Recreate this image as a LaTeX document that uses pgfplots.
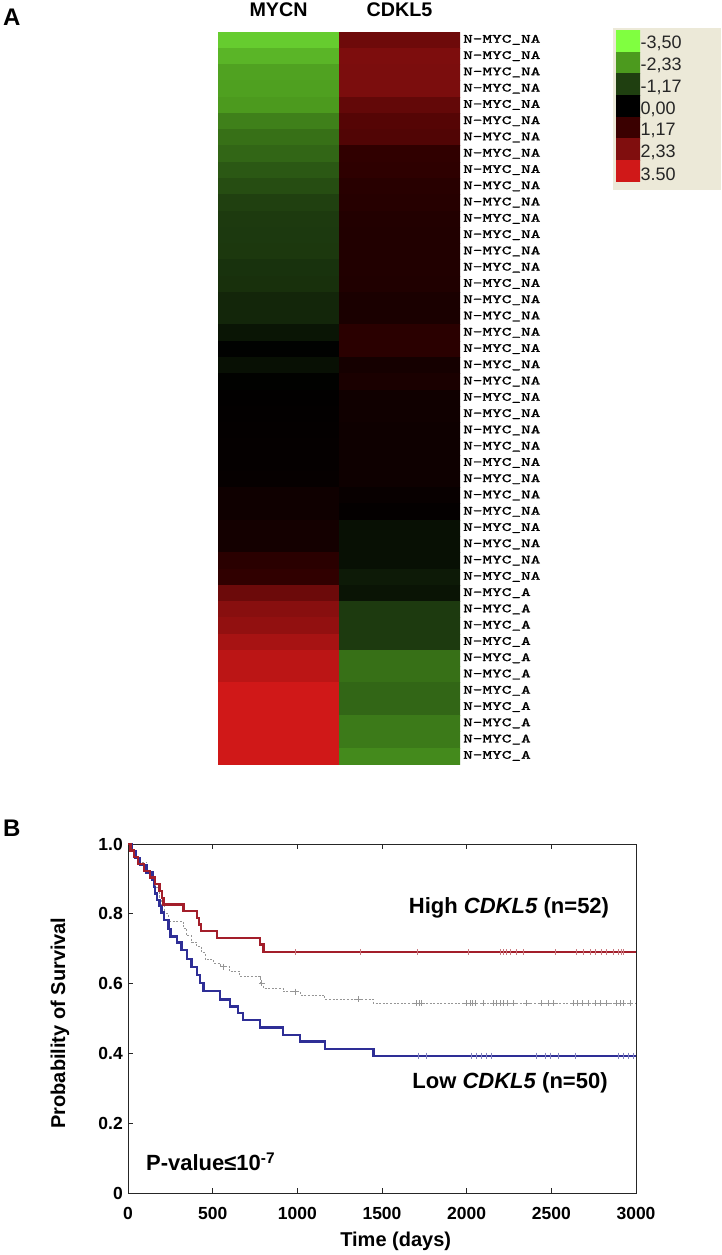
\documentclass[border=0pt]{standalone}
\usepackage{fontspec}
\setmainfont{Liberation Sans}
\newfontfamily\labmono{lmmono10-regular.otf}[FakeBold=1.2]
\usepackage{graphicx}
\usepackage{pgfplots}
\pgfplotsset{compat=1.18}
\usepackage{pgfplotstable}

\definecolor{kmred}{RGB}{163,30,42}
\definecolor{kmblue}{RGB}{46,46,150}
\definecolor{legbg}{RGB}{236,233,216}
\definecolor{kmgray}{RGB}{150,150,150}

\pgfplotsset{colormap={gkr}{rgb255=(128,255,64) rgb255=(76,154,30) rgb255=(31,63,16) rgb255=(0,0,0) rgb255=(58,0,0) rgb255=(128,14,14) rgb255=(208,24,24)}}

% heatmap: x=0 MYCN, x=1 CDKL5, y = row
\pgfplotstableread{
x y v
0 0 -2.91
1 0 2.03
0 1 -2.64
1 1 2.28
0 2 -2.42
1 2 2.25
0 3 -2.40
1 3 2.25
0 4 -2.33
1 4 1.85
0 5 -2.00
1 5 1.62
0 6 -1.79
1 6 1.55
0 7 -1.67
1 7 0.97
0 8 -1.48
1 8 0.93
0 9 -1.34
1 9 0.81
0 10 -1.18
1 10 0.76
0 11 -1.08
1 11 0.68
0 12 -1.06
1 12 0.66
0 13 -1.04
1 13 0.66
0 14 -0.92
1 14 0.66
0 15 -0.89
1 15 0.64
0 16 -0.70
1 16 0.52
0 17 -0.70
1 17 0.52
0 18 -0.39
1 18 0.85
0 19 -0.04
1 19 0.85
0 20 -0.30
1 20 0.42
0 21 -0.03
1 21 0.52
0 22 0.05
1 22 0.32
0 23 0.07
1 23 0.32
0 24 0.08
1 24 0.28
0 25 0.10
1 25 0.28
0 26 0.10
1 26 0.28
0 27 0.12
1 27 0.28
0 28 0.30
1 28 0.16
0 29 0.30
1 29 0.08
0 30 0.40
1 30 -0.30
0 31 0.40
1 31 -0.30
0 32 0.85
1 32 -0.30
0 33 0.97
1 33 -0.48
0 34 2.00
1 34 -0.37
0 35 2.45
1 35 -1.08
0 36 2.60
1 36 -1.08
0 37 2.90
1 37 -1.08
0 38 3.20
1 38 -1.79
0 39 3.20
1 39 -1.79
0 40 3.50
1 40 -1.67
0 41 3.50
1 41 -1.67
0 42 3.50
1 42 -1.92
0 43 3.50
1 43 -1.92
0 44 3.50
1 44 -2.13
}\heat

\pgfplotstableread{
x y v
0 0 -3.50
1 0 -3.50
0 1 -2.33
1 1 -2.33
0 2 -1.17
1 2 -1.17
0 3 0
1 3 0
0 4 1.17
1 4 1.17
0 5 2.33
1 5 2.33
0 6 3.50
1 6 3.50
}\legtab

\pgfplotstableread{
t s
0 1.0
15 0.981
35 0.962
60 0.942
95 0.923
130 0.904
160 0.885
185 0.865
200 0.846
209 0.827
327 0.808
406 0.788
420 0.769
430 0.750
524 0.731
780 0.712
800 0.690
3000 0.690
}\highc

\pgfplotstableread{
t s
0 1.0
20 0.98
45 0.96
70 0.94
110 0.918
145 0.897
152 0.877
159 0.858
172 0.840
185 0.822
199 0.804
213 0.782
238 0.756
252 0.735
288 0.718
317 0.697
347 0.670
376 0.648
406 0.625
425 0.601
445 0.578
543 0.555
602 0.534
650 0.515
680 0.496
780 0.474
917 0.453
1016 0.434
1163 0.412
1449 0.393
3000 0.393
}\lowc

\pgfplotstableread{
t s
0 1.0
20 0.98
45 0.965
70 0.948
110 0.92
150 0.895
160 0.875
185 0.848
200 0.825
213 0.80
238 0.777
327 0.758
347 0.737
376 0.718
406 0.706
435 0.688
455 0.669
504 0.659
543 0.649
602 0.634
661 0.620
780 0.601
800 0.587
917 0.577
1016 0.567
1163 0.555
1449 0.544
3000 0.544
}\allc

\pgfplotstableread{
t s
986 0.690
1370 0.690
1709 0.690
2010 0.690
2197 0.690
2217 0.690
2237 0.690
2256 0.690
2296 0.690
2335 0.690
2522 0.690
2650 0.690
2689 0.690
2729 0.690
2758 0.690
2798 0.690
2827 0.690
2866 0.690
2896 0.690
2915 0.690
2925 0.690
}\highcens

\pgfplotstableread{
t s
1715 0.393
1764 0.393
2030 0.393
2059 0.393
2089 0.393
2118 0.393
2148 0.393
2414 0.393
2463 0.393
2492 0.393
2541 0.393
2640 0.393
2896 0.393
2925 0.393
2955 0.393
2984 0.393
}\lowcens

\pgfplotstableread{
t s
563 0.649
790 0.601
986 0.577
1360 0.555
1705 0.544
1720 0.544
1734 0.544
2000 0.544
2020 0.544
2036 0.544
2049 0.544
2099 0.544
2158 0.544
2177 0.544
2197 0.544
2217 0.544
2237 0.544
2276 0.544
2355 0.544
2443 0.544
2483 0.544
2512 0.544
2630 0.544
2654 0.544
2680 0.544
2719 0.544
2758 0.544
2788 0.544
2827 0.544
2886 0.544
2906 0.544
2925 0.544
2965 0.544
}\allcens

\begin{document}
\begin{tikzpicture}
\fill[white] (0,0) rectangle (721pt,-1255pt);

% Panel labels
\node[anchor=base west, inner sep=0pt, font=\bfseries\fontsize{24}{24}\selectfont] at (3pt,-26pt) {A};
\node[anchor=base west, inner sep=0pt, font=\bfseries\fontsize{24}{24}\selectfont] at (3pt,-836pt) {B};

% Heatmap
\begin{axis}[
  at={(218pt,-31.7pt)}, anchor=north west,
  scale only axis, width=242pt, height=732.3pt,
  xmin=-0.5, xmax=1.5, ymin=-0.5, ymax=44.5, y dir=reverse,
  point meta min=-3.5, point meta max=3.5,
  axis line style={draw=none},
  major tick length=0pt,
  xtick={0,1}, xticklabels={MYCN,CDKL5}, xticklabel pos=upper,
  xticklabel style={anchor=south, inner sep=0pt, yshift=15pt, font=\bfseries\fontsize{19.7}{19.7}\selectfont},
  ytick={0,...,44}, yticklabel pos=right,
  yticklabel={\scalebox{1.47}[1]{\ifnum\ticknum<34 N-MYC\_NA\else N-MYC\_A\fi}},
  yticklabel style={anchor=west, inner sep=0pt, xshift=3pt, font=\labmono\fontsize{12.5}{12.5}\selectfont},
]
\addplot[matrix plot*, mesh/cols=2, point meta=explicit] table[x=x, y=y, meta=v] {\heat};
\end{axis}

% Colour key
\fill[legbg] (613pt,-28pt) rectangle (721pt,-190pt);
\begin{axis}[
  at={(616pt,-30pt)}, anchor=north west,
  scale only axis, width=24pt, height=152pt,
  xmin=-0.5, xmax=1.5, ymin=-0.5, ymax=6.5, y dir=reverse,
  point meta min=-3.5, point meta max=3.5,
  axis line style={draw=none},
  major tick length=0pt,
  xtick=\empty,
  ytick={0,...,6}, yticklabels={{-3,50},{-2,33},{-1,17},{0,00},{1,17},{2,33},{3.50}},
  yticklabel pos=right,
  yticklabel style={anchor=west, inner sep=0pt, xshift=0.5pt, yshift=-3pt, text=black!85, font=\fontsize{18}{18}\selectfont},
]
\addplot[matrix plot*, mesh/cols=2, point meta=explicit] table[x=x, y=y, meta=v] {\legtab};
\end{axis}

% Kaplan-Meier
\begin{axis}[
  at={(128pt,-1193pt)}, anchor=south west,
  scale only axis, width=508pt, height=349pt,
  xmin=0, xmax=3000, ymin=0, ymax=1,
  xtick={0,500,...,3000}, xticklabels={0,500,1000,1500,2000,2500,3000},
  ytick={0,0.2,0.4,0.6,0.8,1}, yticklabels={0,0.2,0.4,0.6,0.8,1.0},
  xtick pos=both, ytick pos=left, tick align=inside,
  major tick length=5pt,
  tick style={black!85, line width=0.8pt},
  axis line style={black!85, line width=1pt},
  ticklabel style={font=\bfseries\fontsize{17.5}{17.5}\selectfont},
  xticklabel style={inner sep=0pt, yshift=-14pt},
  yticklabel style={inner sep=0pt, xshift=-5pt},
  xlabel={Time (days)}, ylabel={Probability of Survival},
  label style={font=\bfseries\fontsize{20}{20}\selectfont},
  xlabel style={at={(axis description cs:0.527,-0.1375)}, anchor=center},
  ylabel style={at={(axis description cs:-0.134,0.487)}, anchor=center},
  clip=false,
]
\addplot[const plot, mark=none, kmgray, line width=0.9pt, dash pattern=on 2pt off 1.6pt] table[x=t, y=s] {\allc};
\addplot[only marks, mark=+, mark size=3pt, kmgray, mark options={line width=0.6pt}] table[x=t, y=s] {\allcens};
\addplot[const plot, mark=none, kmblue, line width=2.4pt] table[x=t, y=s] {\lowc};
\addplot[only marks, mark=|, mark size=3.2pt, kmblue!60!white, mark options={line width=0.7pt}] table[x=t, y=s] {\lowcens};
\addplot[const plot, mark=none, kmred, line width=2.4pt] table[x=t, y=s] {\highc};
\addplot[only marks, mark=|, mark size=3.2pt, kmred!60!white, mark options={line width=0.7pt}] table[x=t, y=s] {\highcens};
\node[anchor=center, font=\bfseries\fontsize{22}{22}\selectfont] at (axis cs:2250,0.817) {High \textit{CDKL5} (n=52)};
\node[anchor=center, font=\bfseries\fontsize{22}{22}\selectfont] at (axis cs:2256,0.315) {Low \textit{CDKL5} (n=50)};
\node[anchor=west, inner sep=0pt, font=\bfseries\fontsize{22}{22}\selectfont] at (axis cs:106,0.089) {P-value≤10\textsuperscript{-7}};
\end{axis}

\pgfresetboundingbox
\useasboundingbox (0,0) rectangle (721pt,-1255pt);
\end{tikzpicture}
\end{document}
